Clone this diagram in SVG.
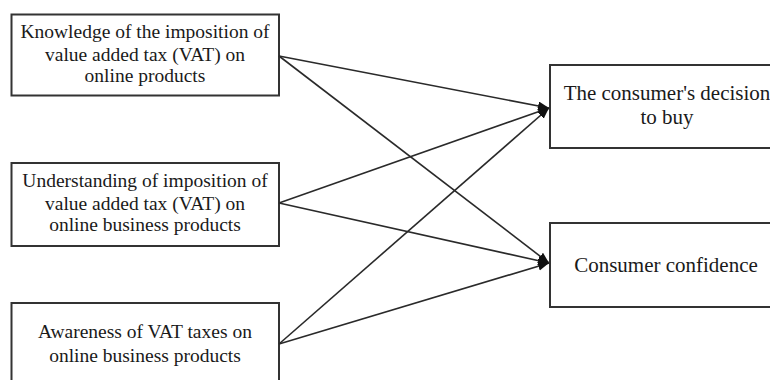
<svg xmlns="http://www.w3.org/2000/svg" width="770" height="380" viewBox="0 0 770 380">
<style>
.box{fill:#ffffff;stroke:#333333;stroke-width:2}
.t{font-family:"Liberation Serif","Times New Roman",serif;font-size:19.5px;fill:#1a1a1a;text-anchor:middle}
.r{font-size:21px}
.c{stroke:#2a2a2a;stroke-width:1.6;fill:none;marker-end:url(#ah)}
</style>
<defs>
<marker id="ah" markerUnits="userSpaceOnUse" markerWidth="12" markerHeight="10" refX="11" refY="4.5" orient="auto">
<path d="M0,0 L11,4.5 L0,9 Z" fill="#111111"/>
</marker>
</defs>
<rect width="770" height="380" fill="#ffffff"/>
<g id="n1">
<rect class="box" x="11.5" y="14.5" width="267.5" height="81"/>
<text class="t" x="145" y="38">Knowledge of the imposition of</text>
<text class="t" x="145" y="61">value added tax (VAT) on</text>
<text class="t" x="145" y="82">online products</text>
</g>
<g id="n2">
<rect class="box" x="11.5" y="163" width="267.5" height="83"/>
<text class="t" x="145" y="187">Understanding of imposition of</text>
<text class="t" x="145" y="210">value added tax (VAT) on</text>
<text class="t" x="145" y="231">online business products</text>
</g>
<g id="n3">
<rect class="box" x="11.5" y="303" width="267.5" height="90"/>
<text class="t" x="145" y="338">Awareness of VAT taxes on</text>
<text class="t" x="145" y="362">online business products</text>
</g>
<g id="n4">
<rect class="box" x="550" y="65" width="240" height="83"/>
<text class="t r" x="667" y="100">The consumer's decision</text>
<text class="t r" x="667" y="124">to buy</text>
</g>
<g id="n5">
<rect class="box" x="550" y="223" width="240" height="84"/>
<text class="t r" x="666" y="272">Consumer confidence</text>
</g>
<g id="connectors">
<line class="c" x1="279" y1="56" x2="549" y2="108"/>
<line class="c" x1="279" y1="56" x2="549" y2="263"/>
<line class="c" x1="279" y1="203" x2="549" y2="108"/>
<line class="c" x1="279" y1="203" x2="549" y2="263"/>
<line class="c" x1="279" y1="344" x2="549" y2="108"/>
<line class="c" x1="279" y1="344" x2="549" y2="263"/>
</g>
</svg>
